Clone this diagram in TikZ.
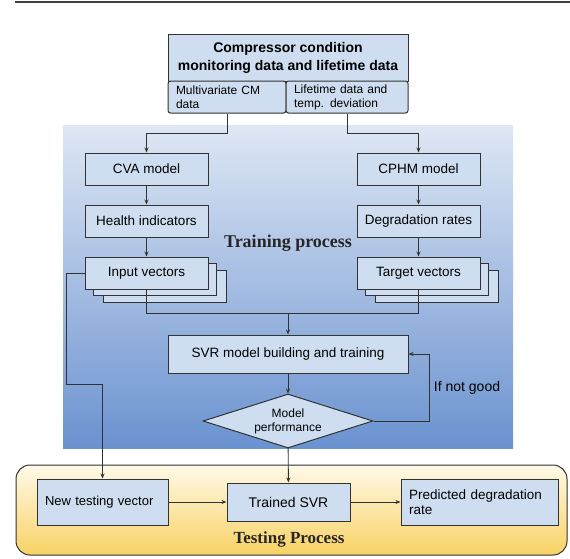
\documentclass[tikz,border=0pt]{standalone}
\usepackage{fontspec}
\setmainfont{Liberation Sans}
\newfontfamily\labelserif{Liberation Serif}
\usetikzlibrary{arrows.meta,shapes.geometric}
\definecolor{boxblue}{RGB}{206,222,240}
\definecolor{linegray}{RGB}{50,50,50}
\definecolor{trainlight}{RGB}{222,231,244}
\definecolor{traindark}{RGB}{106,146,208}
\definecolor{testlight}{RGB}{255,250,232}
\definecolor{testdark}{RGB}{249,210,100}
\tikzset{
  flowbox/.style={draw=linegray, line width=1pt, fill=boxblue, inner sep=0pt,
    minimum width=123pt, minimum height=32pt, font=\fontsize{13.5}{16}\selectfont},
  tabbox/.style={flowbox, rounded corners=2.5pt, align=left, inner xsep=8pt,
    font=\fontsize{12}{14}\selectfont},
  decision/.style={diamond, draw=linegray, line width=1pt, fill=boxblue, inner sep=0pt,
    aspect=3.15, minimum width=170pt, minimum height=54pt, align=center,
    font=\fontsize{12}{14}\selectfont},
  flowline/.style={draw=linegray, line width=0.9pt},
  flowarrow/.style={flowline, -{Stealth[length=5pt,width=4pt]}},
  phaselabel/.style={font=\labelserif\bfseries\fontsize{17}{20}\selectfont, text=black!85},
}
\begin{document}
\begin{tikzpicture}[x=1pt,y=-1pt]
  \useasboundingbox (0,0) rectangle (570,558);

  %%%%% REGIONS %%%%%
  \draw[line width=1.6pt, color=black!75] (15,2) -- (570,2);
  \shade[top color=trainlight, bottom color=traindark] (63,125) rectangle (513,448);
  \draw[line width=1pt, draw=linegray, rounded corners=14pt, top color=testlight, bottom color=testdark]
    (16,465) rectangle (567,555);

  \node[phaselabel, font=\labelserif\bfseries\fontsize{18}{20}\selectfont] (trainlabel) at (288,243) {Training process};
  \node[phaselabel] (testlabel) at (289,539) {Testing Process};

  %%%%% DATA SOURCE %%%%%
  \node[flowbox, minimum width=240pt, minimum height=47pt, align=center,
        font=\bfseries\fontsize{14}{18}\selectfont] (source) at (288,57.5)
        {Compressor condition\\monitoring data and lifetime data};
  \node[tabbox, minimum width=118pt, text width=102pt] (cmdata) at (227,97)
        {Multivariate CM\\data};
  \node[tabbox, minimum width=122pt, text width=106pt] (lifedata) at (347,97)
        {Lifetime data and\\temp. deviation};

  %%%%% TRAINING %%%%%
  \node[flowbox] (cva) at (146.5,169) {CVA model};
  \node[flowbox] (health) at (146.5,221) {Health indicators};
  \node[flowbox] (input3) at (164.5,286) {};
  \node[flowbox] (input2) at (154.5,279) {};
  \node[flowbox] (input) at (146.5,273) {Input vectors};

  \node[flowbox] (cphm) at (418.5,169) {CPHM model};
  \node[flowbox] (degr) at (418.5,221) {Degradation rates};
  \node[flowbox] (target3) at (436.5,286) {};
  \node[flowbox] (target2) at (426.5,279) {};
  \node[flowbox] (target) at (418.5,273) {Target vectors};

  \coordinate (merge) at (288,313);
  \node[flowbox, minimum width=240pt, minimum height=38pt] (svr) at (288,354)
        {SVR model building and training};
  \node[decision] (perf) at (288,421) {Model\\performance};
  \node[font=\fontsize{14}{16}\selectfont] (notgood) at (467,388) {If not good};

  %%%%% TESTING %%%%%
  \node[flowbox, minimum width=131pt, minimum height=46pt, text width=115pt,
        align=left, inner xsep=8pt, font=\fontsize{13}{16}\selectfont] (newtest) at (102.5,502)
        {New testing vector};
  \node[flowbox, minimum height=38pt, font=\fontsize{14}{16}\selectfont] (trained) at (288.5,502)
        {Trained SVR};
  \node[flowbox, minimum width=157pt, minimum height=46pt, text width=141pt,
        align=left, inner xsep=8pt, font=\fontsize{13.5}{15.5}\selectfont] (pred) at (479.5,502)
        {Predicted degradation\\rate};

  %%%%% CONNECTORS %%%%%
  \draw[flowarrow] (cmdata.south) -- ++(0,20) -| (cva.north);
  \draw[flowarrow] (lifedata.south) -- ++(0,20) -| (cphm.north);
  \draw[flowarrow] (cva) -- (health);
  \draw[flowarrow] (health) -- (input);
  \draw[flowarrow] (cphm) -- (degr);
  \draw[flowarrow] (degr) -- (target);
  \draw[flowline] (input.south) |- (merge);
  \draw[flowline] (target.south) |- (merge);
  \draw[flowarrow] (merge) -- (svr.north);
  \draw[flowarrow] (svr) -- (perf);
  \draw[flowarrow] (perf.east) -- ++(56,0) |- (svr.east);
  \draw[flowarrow] (perf) -- (trained);
  \draw[flowarrow] (input.west) -- ++(-18.5,0) -- ++(0,111) -| (newtest.north);
  \draw[flowarrow] (newtest) -- (trained);
  \draw[flowarrow] (trained) -- (pred);
\end{tikzpicture}
\end{document}
